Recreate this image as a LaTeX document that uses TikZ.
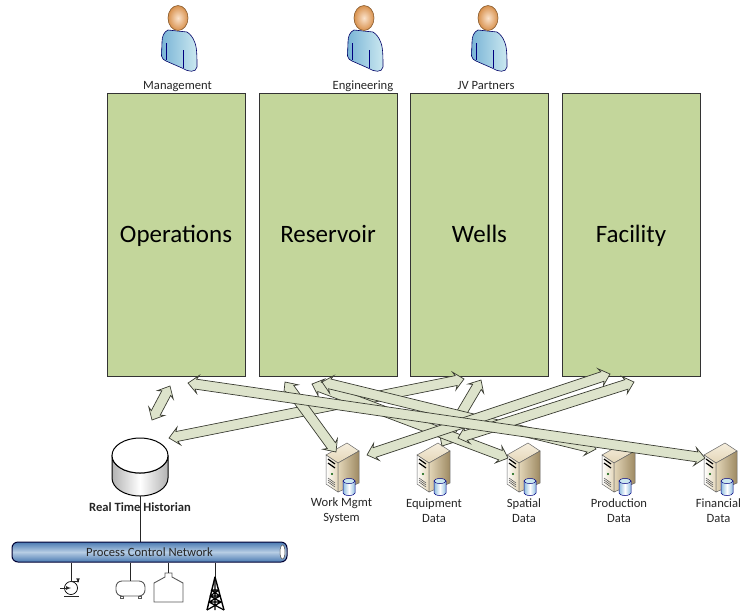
\documentclass[tikz,border=0pt]{standalone}
\usepackage{fontspec}
\setmainfont{Carlito}
\usetikzlibrary{calc}
\definecolor{area}{HTML}{C3D69B}
\definecolor{arrowfill}{HTML}{DDE3CB}
\definecolor{arrowline}{HTML}{3A3C32}
\definecolor{bodylight}{HTML}{CBE8F0}
\definecolor{bodydark}{HTML}{79B4D6}
\definecolor{headlight}{HTML}{FBE3CC}
\definecolor{headdark}{HTML}{D8914D}
\definecolor{caselight}{HTML}{F6EEDD}
\definecolor{casemid}{HTML}{E3D6B8}
\definecolor{casedark}{HTML}{9E8A63}
\definecolor{pipedark}{HTML}{4A7AB2}
\definecolor{pipelight}{HTML}{B7CDE4}
\definecolor{drumblue}{HTML}{8FBDE0}
\newcommand{\blockarrow}[2]{%
  \draw[bigarrow] (#1) -- ($(#1)!10pt!(#2)!9pt!90:(#2)$) -- ($(#1)!8pt!(#2)!5pt!90:(#2)$)
    -- ($(#2)!8pt!(#1)!5pt!-90:(#1)$) -- ($(#2)!10pt!(#1)!9pt!-90:(#1)$) -- (#2)
    -- ($(#2)!10pt!(#1)!9pt!90:(#1)$) -- ($(#2)!8pt!(#1)!5pt!90:(#1)$)
    -- ($(#1)!8pt!(#2)!5pt!-90:(#2)$) -- ($(#1)!10pt!(#2)!9pt!-90:(#2)$) -- cycle;}
\begin{document}
\begin{tikzpicture}[x=1pt,y=-1pt,
    area/.style ={draw=black!80, fill=area, minimum width=138pt, minimum height=283pt, inner sep=0pt, text height=20pt, text depth=4pt, font=\fontsize{25}{27}\selectfont},
    label/.style ={font=\fontsize{12.6}{15}\selectfont, text=black!85, inner sep=0pt, align=center},
    bigarrow/.style ={draw=arrowline, fill=arrowfill, line width=0.7pt, line join=miter},
    link/.style ={draw=black!85, line width=0.7pt},
    vessel/.style ={draw=black!65, line width=0.9pt, fill=white},
    person/.pic ={
      \draw[draw=black!60!blue, line width=0.6pt, left color=bodydark, right color=bodylight]
        (-10,12) .. controls (-14,14) and (-16,18) .. (-16,24) -- (-16.5,38) .. controls (-16,41) and (-14,42) .. (-12,43)
        -- (4,50) .. controls (10,54) and (18,55) .. (19,49) .. controls (19,40) and (19,30) .. (17,25)
        .. controls (15,19) and (12,16) .. (9,14) -- cycle;
      \draw[draw=blue!50!black, line width=0.5pt] (-12,25) -- (-12,42) (5,32) -- (5,50);
      \draw[draw=brown!70!black, line width=0.6pt, inner color=headlight, outer color=headdark] (0,0) ellipse (10 and 12.5);
    },
    server/.pic ={
      \draw[draw=black!60, line width=0.5pt, top color=caselight, bottom color=casemid]
        (0,0) -- (21,-12) -- (33,-4) -- (12,8) -- cycle;
      \draw[draw=black!60, line width=0.5pt, left color=white, right color=casemid]
        (0,0) -- (12,8) -- (12,37) -- (0,29) -- cycle;
      \draw[draw=black!60, line width=0.5pt, left color=casemid, right color=casedark]
        (12,8) -- (33,-4) -- (33,28) -- (12,37) -- cycle;
      \draw[black, line width=1.2pt] (2,4) -- (9,9) (2,8) -- (9,13);
      \fill[green!35!black] (6,19) circle (1.2);
      \draw[black!70, line width=0.5pt] (2,23) -- (9,28) (2,25) -- (9,30) (2,27) -- (9,32);
      \draw[draw=blue!50!black, line width=0.5pt, left color=drumblue, right color=drumblue, middle color=white]
        (17,26) -- (17,38) arc (180:360:6 and -2.5) -- (29,26) -- cycle;
      \draw[draw=blue!50!black, line width=0.5pt, fill=bodylight] (23,26) ellipse (6 and 2.5);
    }]
   \useasboundingbox (0,0) rectangle (741,611);

   % the four areas
   \node[area] (operations) at (176,234.5) {Operations};
   \node[area] (reservoir)  at (328,234.5) {Reservoir};
   \node[area] (wells)      at (479.5,234.5) {Wells};
   \node[area] (facility)   at (631,234.5) {Facility};

   % users
   \pic at (178,18) {person};
   \pic at (364,18) {person};
   \pic at (488,18) {person};
   \node[label, anchor=base] (management)  at (177.5,89) {Management};
   \node[label, anchor=base] (engineering) at (363,89) {Engineering};
   \node[label, anchor=base] (partners)    at (486,89) {JV Partners};

   % data stores
   \pic at (326,455) {server};
   \pic at (417,455) {server};
   \pic at (507,455) {server};
   \pic at (602,455) {server};
   \pic at (704,455) {server};
   \node[label] (workmgmt)   at (341.5,510.5) {Work Mgmt\\System};
   \node[label] (equipment)  at (434,510.5) {Equipment\\Data};
   \node[label] (spatial)    at (524,510.5) {Spatial\\Data};
   \node[label] (production) at (619,510.5) {Production\\Data};
   \node[label] (financial)  at (718.5,510.5) {Financial\\Data};

   % historian
   \coordinate (historian) at (140,496);
   \draw[draw=black, line width=1pt, left color=black!30, right color=black!30, middle color=white]
     (112,455.5) -- (112,478) arc (180:360:28 and -18) -- (168,455.5) arc (0:180:28 and 17.5) -- cycle;
   \draw[draw=black, line width=1pt, fill=white] (140,455.5) ellipse (28 and 17.5);
   \draw[link] (historian) -- (140,542);
   \node[label, font=\fontsize{12.6}{15}\selectfont\bfseries] (historianlabel) at (140,507) {Real Time Historian};

   % network
   \node[draw=black!80!blue, line width=1pt, rounded corners=6pt, minimum width=275pt, minimum height=20pt, inner sep=0pt,
     top color=pipedark, bottom color=pipedark, middle color=pipelight,
     font=\fontsize{12.6}{15}\selectfont, text=black!85] (network) at (149.5,552) {Process Control Network};
   \draw[draw=black!70, fill=white, line width=0.5pt] (282.5,552) ellipse (2.5 and 7);

   % plant items
   \node[draw=black, circle, line width=0.7pt, minimum size=13pt, inner sep=0pt] (pump) at (71,588) {};
   \draw[link] (pump.north |- network.south) -- (pump.north);
   \draw[link, -{latex}] (pump.north) -- ++(7,0) -- ++(0,2);
   \draw[link, -{latex}] (60,588) -- (pump.center);
   \draw[link] (64,596) -- (79,596);
   \node[vessel, rounded corners=6pt, minimum width=29pt, minimum height=15pt, inner sep=0pt] (drum) at (130.5,588.5) {};
   \draw[link] (drum.north |- network.south) -- (drum.north);
   \draw[draw=black!65, line width=0.7pt] (120,596) rectangle ++(3,2.5) (138,596) rectangle ++(3,2.5);
   \coordinate (tank) at (168.5,573);
   \draw[vessel] (165,573) -- (172,573) -- (172,577) -- (183,583) -- (183,602) -- (154,602) -- (154,583) -- (165,577) -- cycle;
   \draw[link] (tank |- network.south) -- (tank);
   \coordinate (tower) at (215,577);
   \draw[link] (tower |- network.south) -- (tower);
   \draw[black, line width=1.4pt, line join=round] (207,610) -- (tower) -- (224,610);
   \draw[black, line width=1.2pt] (211,590) -- (219,590) (210,596) -- (220,596) (209,602) -- (221,602)
     (211,590) -- (220,596) (219,590) -- (210,596) (210,596) -- (221,602) (220,596) -- (209,602)
     (209,602) -- (224,610) (221,602) -- (207,610) (tower) -- (215,610);

   % ends of the block arrows
   \coordinate (opsa) at (170,386);
   \coordinate (histb) at (152,420);
   \coordinate (opsb) at (188,383);
   \coordinate (fina) at (705,458);
   \coordinate (histc) at (169,438);
   \coordinate (wella) at (464,379);
   \coordinate (resa) at (285,382);
   \coordinate (worka) at (336,452);
   \coordinate (workb) at (367,455);
   \coordinate (faca) at (610,374);
   \coordinate (equa) at (442,446);
   \coordinate (wellb) at (481,380);
   \coordinate (equb) at (458,438);
   \coordinate (facb) at (634,382);
   \coordinate (resb) at (312,384);
   \coordinate (spata) at (508,458);
   \coordinate (resc) at (322,382);
   \coordinate (proda) at (596,449);

   \blockarrow{opsa}{histb}
   \blockarrow{histc}{wella}
   \blockarrow{resa}{worka}
   \blockarrow{equa}{wellb}
   \blockarrow{resb}{spata}
   \blockarrow{resc}{proda}
   \blockarrow{workb}{faca}
   \blockarrow{equb}{facb}
   \blockarrow{opsb}{fina}
 \end{tikzpicture}
\end{document}
